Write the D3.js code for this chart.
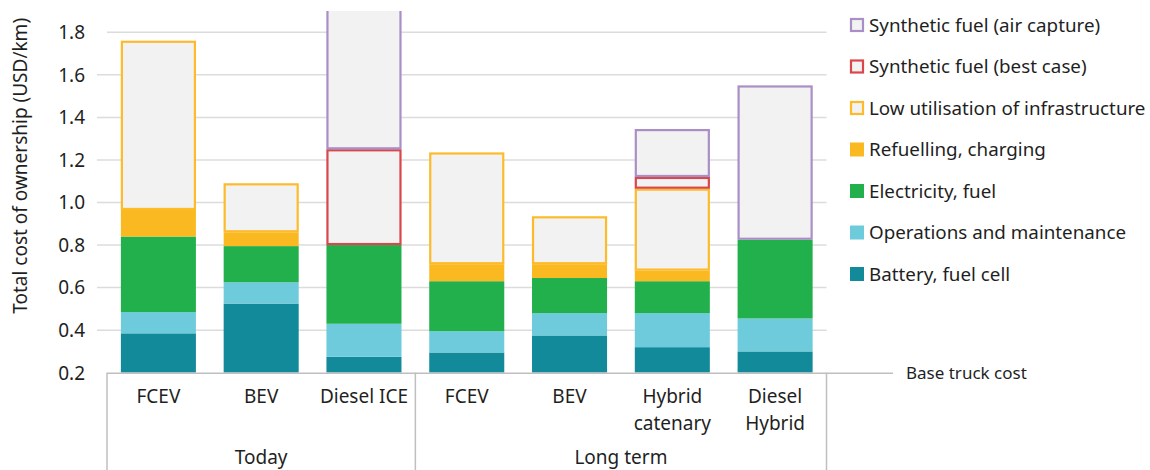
<!DOCTYPE html>
<html>
<head>
<meta charset="utf-8">
<script src="https://cdn.jsdelivr.net/npm/d3@7/dist/d3.min.js"></script>
<style>
  html, body { margin: 0; padding: 0; background: #fff; }
  svg { display: block; font-family: "Noto Sans", sans-serif; }
</style>
</head>
<body>
<svg id="chart" width="1150" height="470"></svg>
<script>
// ---------------- data ----------------
const categoryLabels = [["FCEV"], ["BEV"], ["Diesel ICE"], ["FCEV"], ["BEV"], ["Hybrid", "catenary"], ["Diesel", "Hybrid"]];
const groups = ["Today", "Long term"];
const groupSizes = [3, 4];

const seriesNames = [
  "Battery, fuel cell",
  "Operations and maintenance",
  "Electricity, fuel",
  "Refuelling, charging",
  "Low utilisation of infrastructure",
  "Synthetic fuel (best case)",
  "Synthetic fuel (air capture)"
];
const baseTruckCost = [0.2, 0.2, 0.2, 0.2, 0.2, 0.2, 0.2];
const batteryFuelCell = [0.185, 0.325, 0.075, 0.095, 0.175, 0.12, 0.10];
const operationsMaintenance = [0.10, 0.10, 0.155, 0.10, 0.105, 0.16, 0.155];
const electricityFuel = [0.355, 0.17, 0.37, 0.235, 0.165, 0.15, 0.37];
const refuellingCharging = [0.125, 0.065, 0, 0.08, 0.065, 0.05, 0];
const lowUtilisation = [0.795, 0.23, 0, 0.525, 0.225, 0.385, 0];
const syntheticBestCase = [0, 0, 0.45, 0, 0, 0.055, 0];
const syntheticAirCapture = [0, 0, 0.90, 0, 0, 0.225, 0.725];
const yTicks = [0.2, 0.4, 0.6, 0.8, 1.0, 1.2, 1.4, 1.6, 1.8];

const seriesValues = [batteryFuelCell, operationsMaintenance, electricityFuel, refuellingCharging,
                      lowUtilisation, syntheticBestCase, syntheticAirCapture];

// ---------------- styles ----------------
const fills = ["#138A9A", "#6DCBDB", "#21B04B", "#FBB921", "#F2F2F2", "#F2F2F2", "#F2F2F2"];
const strokes = [null, null, null, null, "#FDBB2C", "#D9464B", "#A98FC6"];
const textColor = "#1f1f1f";
const gridColor = "#DCDCDC";
const axisColor = "#BFBFBF";

const svg = d3.select("#chart");
const plotLeft = 107, plotRight = 826.5, plotTop = 11, plotBottom = 372.7;

const x = d3.scaleBand().domain(d3.range(categoryLabels.length))
  .range([plotLeft, plotRight]).paddingInner(0.27).paddingOuter(0.135);
const y = d3.scaleLinear().domain([0.2, 1.9]).range([plotBottom, plotTop]);

// gridlines
svg.append("g").selectAll("line").data(yTicks.slice(1)).join("line")
  .attr("x1", d => d > 1.7 ? plotLeft : 97).attr("x2", plotRight)
  .attr("y1", d => y(d)).attr("y2", d => y(d))
  .attr("stroke", gridColor).attr("stroke-width", 1.5);

// y tick labels
svg.append("g").selectAll("text").data(yTicks).join("text")
  .attr("x", 85).attr("y", d => y(d)).attr("dy", "0.36em")
  .attr("text-anchor", "end").attr("font-size", 19).attr("fill", textColor)
  .text(d => d.toFixed(1));

// y axis title
svg.append("text")
  .attr("transform", `translate(27,${(plotTop + plotBottom) / 2 - 26}) rotate(-90)`)
  .attr("text-anchor", "middle").attr("font-size", 19).attr("fill", textColor)
  .text("Total cost of ownership (USD/km)");

// stack
const rows = categoryLabels.map((c, i) => {
  const r = { base: baseTruckCost[i] };
  seriesNames.forEach((s, k) => r[s] = seriesValues[k][i]);
  return r;
});
const stack = d3.stack().keys(["base", ...seriesNames]);
const stacked = stack(rows);

svg.append("defs").append("clipPath").attr("id", "plotClip")
  .append("rect").attr("x", plotLeft).attr("y", plotTop)
  .attr("width", plotRight - plotLeft + 20).attr("height", plotBottom - plotTop);

const barsG = svg.append("g").attr("clip-path", "url(#plotClip)");
stacked.slice(1).forEach((layer, k) => {
  const g = barsG.append("g");
  const data = layer.map((d, i) => ({ y0: d[0], y1: d[1], i })).filter(d => d.y1 - d.y0 > 0);
  if (strokes[k]) {
    g.selectAll("rect").data(data).join("rect")
      .attr("x", d => x(d.i) + 1).attr("width", x.bandwidth() - 2)
      .attr("y", d => y(d.y1) + 1).attr("height", d => y(d.y0) - y(d.y1) - 2)
      .attr("fill", fills[k]).attr("stroke", strokes[k]).attr("stroke-width", 2.2);
  } else {
    g.selectAll("rect").data(data).join("rect")
      .attr("x", d => x(d.i)).attr("width", x.bandwidth())
      .attr("y", d => y(d.y1)).attr("height", d => y(d.y0) - y(d.y1))
      .attr("fill", fills[k]);
  }
});

// category axis box
const axG = svg.append("g");
axG.append("line").attr("x1", plotLeft).attr("x2", 893)
  .attr("y1", plotBottom + 0.5).attr("y2", plotBottom + 0.5)
  .attr("stroke", axisColor).attr("stroke-width", 1.5);
let acc = 0;
const bounds = [0];
groupSizes.forEach(n => { acc += n; bounds.push(acc); });
const boundX = b => b === 0 ? plotLeft : (b === categoryLabels.length ? plotRight : x(b) - x.step() * x.paddingInner() / 2);
bounds.forEach(b => {
  axG.append("line").attr("x1", boundX(b)).attr("x2", boundX(b))
    .attr("y1", plotBottom).attr("y2", 470)
    .attr("stroke", axisColor).attr("stroke-width", 1.5);
});
groups.forEach((gname, gi) => {
  const cx = (boundX(bounds[gi]) + boundX(bounds[gi + 1])) / 2;
  axG.append("text").attr("x", cx).attr("y", 464).attr("text-anchor", "middle")
    .attr("font-size", 19).attr("fill", textColor).text(gname);
});
categoryLabels.forEach((lines, i) => {
  const t = axG.append("text").attr("text-anchor", "middle").attr("font-size", 19).attr("fill", textColor);
  lines.forEach((ln, j) => {
    t.append("tspan").attr("x", x(i) + x.bandwidth() / 2).attr("y", 403 + j * 26.5).text(ln);
  });
});
axG.append("text").attr("x", 906).attr("y", plotBottom).attr("dy", "0.36em")
  .attr("font-size", 17).attr("fill", textColor).text("Base truck cost");

// legend
const legendOrder = d3.range(seriesNames.length).reverse();
const lg = svg.append("g");
legendOrder.forEach((k, j) => {
  const cy = 25 + j * 41.5;
  if (strokes[k]) {
    lg.append("rect").attr("x", 851).attr("y", cy - 6).attr("width", 12).attr("height", 12)
      .attr("fill", fills[k]).attr("stroke", strokes[k]).attr("stroke-width", 2.2);
  } else {
    lg.append("rect").attr("x", 850).attr("y", cy - 7).attr("width", 14).attr("height", 14)
      .attr("fill", fills[k]);
  }
  lg.append("text").attr("x", 869).attr("y", cy).attr("dy", "0.36em")
    .attr("font-size", 18.8).attr("fill", textColor).text(seriesNames[k]);
});
</script>
</body>
</html>
